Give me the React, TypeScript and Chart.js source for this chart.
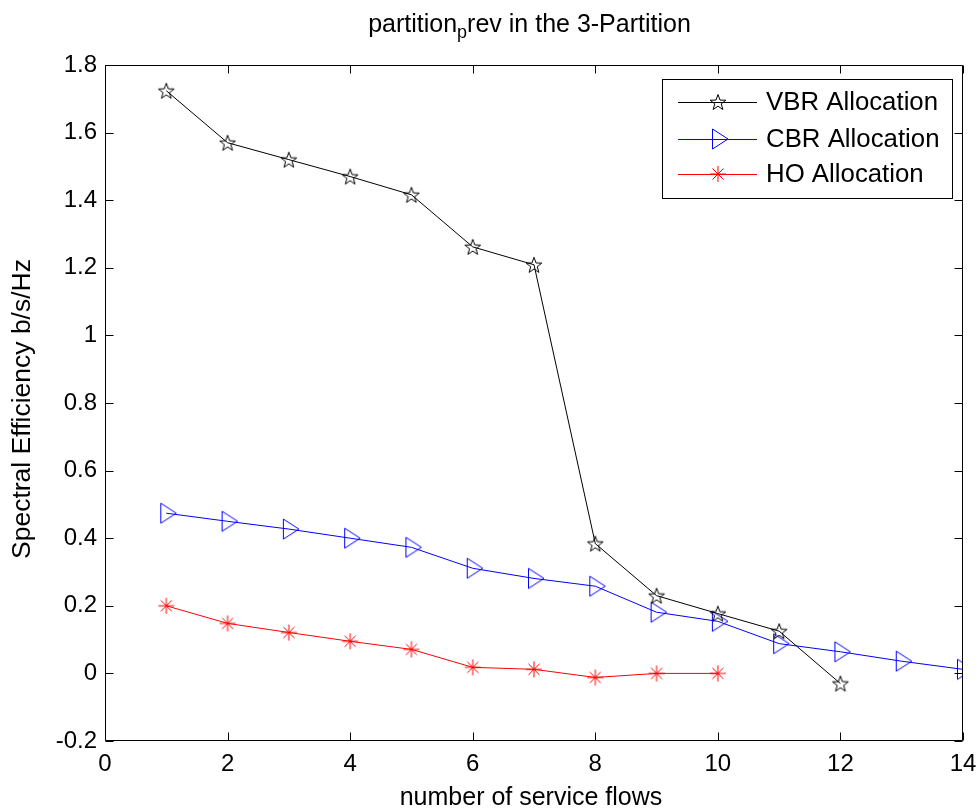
import React, { useEffect, useRef } from "react";
import { Chart, registerables } from "chart.js";

Chart.register(...registerables);

const vbrX = [1, 2, 3, 4, 5, 6, 7, 8, 9, 10, 11, 12];
const vbrY = [1.724, 1.57, 1.52, 1.47, 1.416, 1.262, 1.209, 0.384, 0.23, 0.177, 0.125, -0.03];
const cbrX = [1, 2, 3, 4, 5, 6, 7, 8, 9, 10, 11, 12, 13, 14];
const cbrY = [0.474, 0.45, 0.427, 0.4, 0.373, 0.311, 0.281, 0.258, 0.181, 0.154, 0.088, 0.064, 0.036, 0.012];
const hoX = [1, 2, 3, 4, 5, 6, 7, 8, 9, 10];
const hoY = [0.2, 0.148, 0.121, 0.095, 0.071, 0.018, 0.012, -0.012, 0, 0];

const seriesLabels = ["VBR Allocation", "CBR Allocation", "HO Allocation"];
const xTitle = "number of service flows";
const yTitle = "Spectral Efficiency b/s/Hz";
const titleMain = "partition";
const titleSub = "p";
const titleRest = "rev in the 3-Partition";

const FONT = "'Liberation Sans', Arial, sans-serif";

function makeCanvas(size: number, draw: (ctx: CanvasRenderingContext2D, c: number) => void) {
  const cv = document.createElement("canvas");
  cv.width = size;
  cv.height = size;
  const ctx = cv.getContext("2d")!;
  draw(ctx, size / 2);
  return cv;
}

function starMarker() {
  return makeCanvas(20, (ctx, c) => {
    ctx.strokeStyle = "#000";
    ctx.lineWidth = 1;
    ctx.beginPath();
    const R = 8.3, r = 3.4;
    for (let i = 0; i < 10; i++) {
      const rad = i % 2 === 0 ? R : r;
      const a = -Math.PI / 2 + (i * Math.PI) / 5;
      const px = c + rad * Math.cos(a);
      const py = c + 0.8 + rad * Math.sin(a);
      if (i === 0) ctx.moveTo(px, py);
      else ctx.lineTo(px, py);
    }
    ctx.closePath();
    ctx.stroke();
  });
}

function triMarker() {
  return makeCanvas(24, (ctx, c) => {
    ctx.strokeStyle = "#0000ff";
    ctx.lineWidth = 1;
    ctx.beginPath();
    ctx.moveTo(c + 10, c);
    ctx.lineTo(c - 5.5, c - 10);
    ctx.lineTo(c - 5.5, c + 10);
    ctx.closePath();
    ctx.stroke();
  });
}

function asteriskMarker() {
  return makeCanvas(20, (ctx, c) => {
    ctx.strokeStyle = "#ff0000";
    ctx.lineWidth = 1;
    ctx.beginPath();
    ctx.moveTo(c, c - 8);
    ctx.lineTo(c, c + 8);
    ctx.moveTo(c - 8, c);
    ctx.lineTo(c + 8, c);
    ctx.moveTo(c - 5.5, c - 5.5);
    ctx.lineTo(c + 5.5, c + 5.5);
    ctx.moveTo(c - 5.5, c + 5.5);
    ctx.lineTo(c + 5.5, c - 5.5);
    ctx.stroke();
  });
}

export default function App() {
  const ref = useRef<HTMLCanvasElement | null>(null);

  useEffect(() => {
    const canvas = ref.current;
    if (!canvas) return;
    const mStar = starMarker();
    const mTri = triMarker();
    const mAst = asteriskMarker();
    const markers = [mStar, mTri, mAst];
    const colors = ["#000000", "#0000ff", "#ff0000"];

    const framePlugin = {
      id: "matlabFrame",
      afterDraw(chart: any) {
        const ctx = chart.ctx as CanvasRenderingContext2D;
        const { left, right, top, bottom } = chart.chartArea;
        const xs = chart.scales.x;
        const ys = chart.scales.y;
        ctx.save();
        ctx.strokeStyle = "#000";
        ctx.lineWidth = 1;
        const L = Math.round(left) + 0.5, R = Math.round(right) - 0.5;
        const T = Math.round(top) + 0.5, B = Math.round(bottom) - 0.5;
        ctx.beginPath();
        ctx.rect(L, T, R - L, B - T);
        xs.ticks.forEach((t: any) => {
          const p = Math.round(xs.getPixelForValue(t.value)) + 0.5;
          ctx.moveTo(p, B);
          ctx.lineTo(p, B - 8);
          ctx.moveTo(p, T);
          ctx.lineTo(p, T + 8);
        });
        ys.ticks.forEach((t: any) => {
          const p = Math.round(ys.getPixelForValue(t.value)) + 0.5;
          ctx.moveTo(L, p);
          ctx.lineTo(L + 8, p);
          ctx.moveTo(R, p);
          ctx.lineTo(R - 8, p);
        });
        ctx.stroke();

        // title
        ctx.fillStyle = "#000";
        ctx.textBaseline = "alphabetic";
        const mainF = `25px ${FONT}`;
        const subF = `18px ${FONT}`;
        ctx.font = mainF;
        const w1 = ctx.measureText(titleMain).width;
        const w3 = ctx.measureText(titleRest).width;
        ctx.font = subF;
        const w2 = ctx.measureText(titleSub).width;
        const total = w1 + w2 + w3;
        let tx = 529.5 - total / 2;
        const ty = 32;
        ctx.textAlign = "left";
        ctx.font = mainF;
        ctx.fillText(titleMain, tx, ty);
        tx += w1;
        ctx.font = subF;
        ctx.fillText(titleSub, tx, ty + 6);
        tx += w2;
        ctx.font = mainF;
        ctx.fillText(titleRest, tx, ty);

        // axis titles
        ctx.textAlign = "center";
        ctx.font = `25px ${FONT}`;
        ctx.fillText(xTitle, 531, 805);
        ctx.save();
        ctx.translate(30, 409);
        ctx.rotate(-Math.PI / 2);
        ctx.font = `26.5px ${FONT}`;
        ctx.fillText(yTitle, 0, 0);
        ctx.restore();

        // legend
        const bx = 662.5, by = 79.5, bw = 290, bh = 119;
        ctx.fillStyle = "#fff";
        ctx.fillRect(bx, by, bw, bh);
        ctx.strokeStyle = "#000";
        ctx.strokeRect(bx, by, bw, bh);
        const rows = [102, 139, 174];
        ctx.font = `25.8px ${FONT}`;
        ctx.textAlign = "left";
        rows.forEach((ry, i) => {
          ctx.strokeStyle = colors[i];
          ctx.beginPath();
          ctx.moveTo(678, ry + 0.5);
          ctx.lineTo(757, ry + 0.5);
          ctx.stroke();
          const m = markers[i];
          ctx.drawImage(m, 718 - m.width / 2, ry - m.height / 2);
          ctx.fillStyle = "#000";
          ctx.fillText(seriesLabels[i], 766, ry + 8);
        });
        ctx.restore();
      },
    };

    const toPts = (xs: number[], ys: number[]) => xs.map((x, i) => ({ x, y: ys[i] }));

    const chart = new Chart(canvas, {
      type: "line",
      data: {
        datasets: [
          {
            label: seriesLabels[0],
            data: toPts(vbrX, vbrY),
            borderColor: "#000000",
            borderWidth: 1,
            pointStyle: mStar as any,
            pointRadius: 8,
            fill: false,
          },
          {
            label: seriesLabels[1],
            data: toPts(cbrX, cbrY),
            borderColor: "#0000ff",
            borderWidth: 1,
            pointStyle: mTri as any,
            pointRadius: 10,
            fill: false,
          },
          {
            label: seriesLabels[2],
            data: toPts(hoX, hoY),
            borderColor: "#ff0000",
            borderWidth: 1,
            pointStyle: mAst as any,
            pointRadius: 8,
            fill: false,
          },
        ],
      },
      options: {
        animation: false,
        responsive: false,
        devicePixelRatio: 1,
        events: [],
        layout: { padding: { left: 0, right: 17, top: 65, bottom: 0 } },
        plugins: {
          legend: { display: false },
          title: { display: false },
          tooltip: { enabled: false },
        },
        scales: {
          x: {
            type: "linear",
            min: 0,
            max: 14,
            grid: { display: false, drawTicks: false },
            border: { display: false },
            ticks: {
              stepSize: 2,
              padding: 9,
              color: "#000",
              font: { family: FONT, size: 24 },
              maxRotation: 0,
            },
            afterFit: (s: any) => {
              s.height = 67;
              s.paddingLeft = 0;
              s.paddingRight = 0;
            },
          },
          y: {
            type: "linear",
            min: -0.2,
            max: 1.8,
            grid: { display: false, drawTicks: false },
            border: { display: false },
            ticks: {
              stepSize: 0.2,
              padding: 8,
              color: "#000",
              font: { family: FONT, size: 24 },
              callback: (v: any) => String(Number(Number(v).toFixed(1))),
            },
            afterFit: (s: any) => {
              s.width = 105;
              s.paddingTop = 0;
              s.paddingBottom = 0;
            },
          },
        },
      },
      plugins: [framePlugin],
    });
    return () => chart.destroy();
  }, []);

  return (
    <div style={{ position: "absolute", left: 0, top: 0, width: 980, height: 808, background: "#fff" }}>
      <canvas ref={ref} width={980} height={808} style={{ display: "block" }} />
    </div>
  );
}
